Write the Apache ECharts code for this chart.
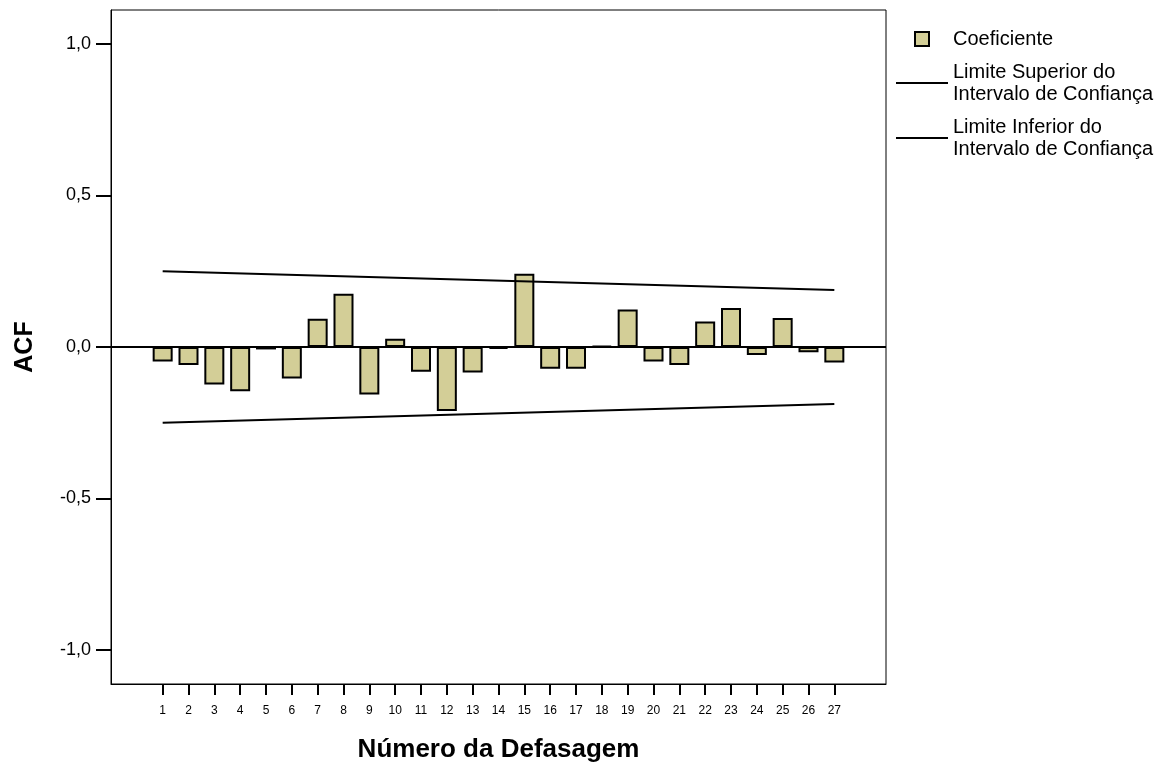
<!DOCTYPE html>
<html>
<head>
<meta charset="utf-8">
<script src="https://cdn.jsdelivr.net/npm/echarts@6/dist/echarts.min.js"></script>
<style>
  html, body { margin: 0; padding: 0; background: #fff; }
  #chart { width: 1169px; height: 769px; }
</style>
</head>
<body>
<div id="chart"></div>
<script>
// Lags (Número da Defasagem)
const lags = [1, 2, 3, 4, 5, 6, 7, 8, 9, 10, 11, 12, 13, 14, 15, 16, 17, 18, 19, 20, 21, 22, 23, 24, 25, 26, 27];
// Autocorrelation coefficient at each lag
const acf = [-0.048, -0.059, -0.124, -0.146, -0.008, -0.104, 0.093, 0.176, -0.157, 0.027,
             -0.082, -0.211, -0.084, -0.006, 0.242, -0.072, -0.072, 0.004, 0.124, -0.048,
             -0.059, 0.084, 0.129, -0.026, 0.096, -0.017, -0.051];
// Confidence limits at the first and last lag
const limitLags = [1, 27];
const upperLimit = [0.250, 0.188];
const lowerLimit = [-0.250, -0.188];
// Y-axis tick values
const yTicks = [-1.0, -0.5, 0.0, 0.5, 1.0];

const FONT = '"Liberation Sans", Arial, sans-serif';
const barName = 'Coeficiente';
const upName = 'Limite Superior do\nIntervalo de Confiança';
const lowName = 'Limite Inferior do\nIntervalo de Confiança';
// thin horizontal bar used as the legend key of the limit lines
const lineKey = 'path://M0,0H26V1H0Z';

const chart = echarts.init(document.getElementById('chart'), null, { renderer: 'canvas' });

chart.setOption({
  animation: false,
  backgroundColor: '#ffffff',
  grid: {
    left: 111, right: 283, top: 10, bottom: 85,
    show: true, borderColor: '#000', borderWidth: 1,
    outerBoundsMode: 'none'
  },
  legend: {
    orient: 'vertical',
    left: 896, top: 28, padding: 0,
    itemWidth: 52, itemHeight: 14, itemGap: 11,
    symbolKeepAspect: true,
    textStyle: { fontFamily: FONT, fontSize: 20, color: '#000', lineHeight: 22 },
    data: [
      { name: barName, icon: 'path://M0,0H10V10H0Z',
        itemStyle: { color: '#d3ce97', borderColor: '#000', borderWidth: 2 } },
      { name: upName, icon: lineKey, itemStyle: { color: '#000', borderWidth: 0 } },
      { name: lowName, icon: lineKey, itemStyle: { color: '#000', borderWidth: 0 } }
    ]
  },
  xAxis: {
    type: 'value',
    min: -1, max: 29,
    name: 'Número da Defasagem',
    nameLocation: 'middle',
    nameGap: 53,
    nameTextStyle: { fontFamily: FONT, fontSize: 26, fontWeight: 'bold', color: '#000' },
    axisLine: { show: true, onZero: false, lineStyle: { color: '#000', width: 1 } },
    axisTick: { show: true, length: 11, lineStyle: { color: '#000', width: 2 }, customValues: lags },
    axisLabel: { fontFamily: FONT, fontSize: 12, color: '#000', margin: 21, customValues: lags,
                 formatter: v => String(v) },
    splitLine: { show: false }
  },
  yAxis: {
    type: 'value',
    min: -1.112, max: 1.112,
    name: 'ACF',
    nameLocation: 'middle',
    nameRotate: 90,
    nameGap: 73,
    nameTextStyle: { fontFamily: FONT, fontSize: 25, fontWeight: 'bold', color: '#000' },
    axisLine: { show: true, onZero: false, lineStyle: { color: '#000', width: 1 } },
    axisTick: { show: true, length: 15, lineStyle: { color: '#000', width: 2 }, customValues: yTicks },
    axisLabel: { fontFamily: FONT, fontSize: 18, color: '#000', margin: 20, customValues: yTicks,
                 formatter: v => v.toFixed(1).replace('.', ',') },
    splitLine: { show: false }
  },
  series: [
    {
      name: barName,
      type: 'bar',
      data: lags.map((l, i) => [l, acf[i]]),
      barWidth: 20,
      itemStyle: { color: '#d3ce97', borderColor: '#000', borderWidth: 2 },
      z: 2,
      markLine: {
        silent: true,
        symbol: 'none',
        label: { show: false },
        lineStyle: { color: '#000', width: 2, type: 'solid' },
        data: [{ yAxis: 0 }],
        z: 5
      }
    },
    {
      name: upName,
      type: 'line',
      data: limitLags.map((l, i) => [l, upperLimit[i]]),
      symbol: 'none',
      lineStyle: { color: '#000', width: 2 },
      itemStyle: { color: '#000' },
      z: 4
    },
    {
      name: lowName,
      type: 'line',
      data: limitLags.map((l, i) => [l, lowerLimit[i]]),
      symbol: 'none',
      lineStyle: { color: '#000', width: 2 },
      itemStyle: { color: '#000' },
      z: 4
    }
  ]
});
</script>
</body>
</html>
